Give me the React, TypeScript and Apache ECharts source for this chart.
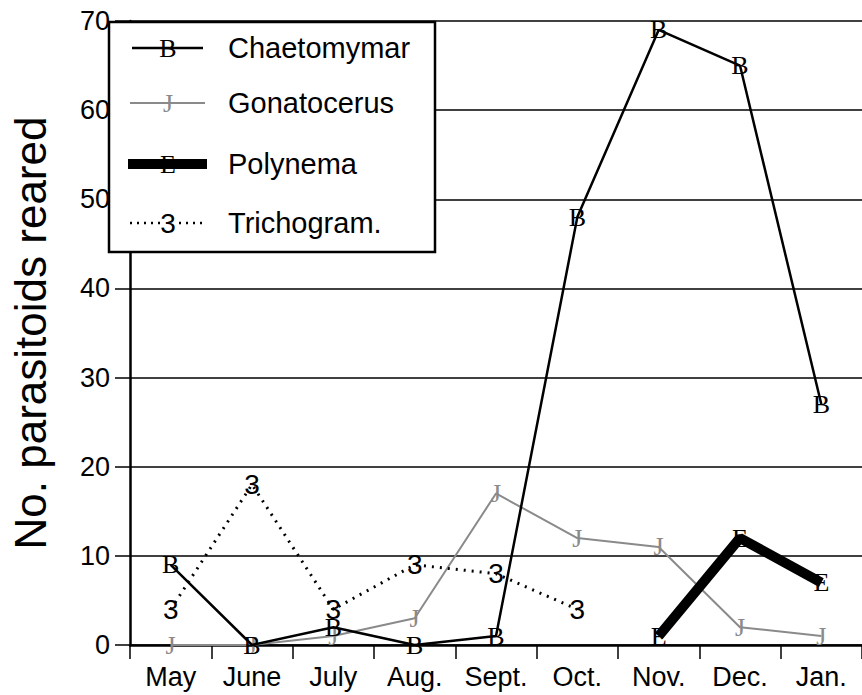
import React, { useEffect, useRef } from "react";
import * as echarts from "echarts";

const months = ["May", "June", "July", "Aug.", "Sept.", "Oct.", "Nov.", "Dec.", "Jan."];
const chaetomymar = [9, 0, 2, 0, 1, 48, 69, 65, 27];
const gonatocerus = [0, 0, 1, 3, 17, 12, 11, 2, 1];
const polynema: (number | null)[] = [null, null, null, null, null, null, 1, 12, 7];
const trichogram: (number | null)[] = [4, 18, 4, 9, 8, 4, null, null, null];
const yTicks = { min: 0, max: 70, interval: 10 };
const seriesNames = ["Chaetomymar", "Gonatocerus", "Polynema", "Trichogram."];
const markers = ["B", "J", "E", "3"];

const SANS = '"Liberation Sans", Arial, Helvetica, sans-serif';
const SERIF = '"Liberation Serif", "Times New Roman", serif';
const GRAY = "#8a8a8a";
const MSIZE = 26;
const NSIZE = 28;

export default function App() {
  const ref = useRef<HTMLDivElement>(null);
  useEffect(() => {
    if (!ref.current) return;
    const chart = echarts.init(ref.current, undefined, { renderer: "svg" });

    const markerLabel = (txt: string, color: string, family: string, size: number) => ({
      show: true,
      position: "inside" as const,
      formatter: txt,
      color,
      fontFamily: family,
      fontSize: size,
    });

    const legendRows = [
      { y: 48, name: seriesNames[0], line: { x1: 132, x2: 203, stroke: "#000", lineWidth: 2.5 }, m: markers[0], mColor: "#000", mFamily: SERIF, mSize: MSIZE },
      { y: 103, name: seriesNames[1], line: { x1: 130, x2: 205, stroke: GRAY, lineWidth: 2 }, m: markers[1], mColor: GRAY, mFamily: SERIF, mSize: MSIZE },
      { y: 164, name: seriesNames[2], line: { x1: 128, x2: 207, stroke: "#000", lineWidth: 10 }, m: markers[2], mColor: "#000", mFamily: SERIF, mSize: MSIZE },
      { y: 223, name: seriesNames[3], line: { x1: 130, x2: 202, stroke: "#000", lineWidth: 2.5, lineDash: [2, 5] }, m: markers[3], mColor: "#000", mFamily: SANS, mSize: NSIZE },
    ];

    const legendGraphics: any[] = [
      {
        type: "rect",
        shape: { x: 109, y: 22, width: 326, height: 230 },
        style: { fill: "#fff", stroke: "#000", lineWidth: 2.5 },
        z: 100,
      },
    ];
    legendRows.forEach((r) => {
      legendGraphics.push({
        type: "line",
        shape: { x1: r.line.x1, y1: r.y, x2: r.line.x2, y2: r.y },
        style: { stroke: r.line.stroke, lineWidth: r.line.lineWidth, lineDash: (r.line as any).lineDash },
        z: 101,
      });
      legendGraphics.push({
        type: "text",
        x: 168,
        y: r.y,
        style: {
          text: r.m,
          fill: r.mColor,
          fontFamily: r.mFamily,
          fontSize: r.mSize,
          align: "center",
          verticalAlign: "middle",
          backgroundColor: r.m === "3" ? "#fff" : undefined,
        },
        z: 102,
      });
      legendGraphics.push({
        type: "text",
        x: 228,
        y: r.y,
        style: {
          text: r.name,
          fill: "#000",
          fontFamily: SANS,
          fontSize: 29,
          align: "left",
          verticalAlign: "middle",
        },
        z: 102,
      });
    });

    chart.setOption({
      animation: false,
      backgroundColor: "#fff",
      grid: { left: 108, right: 0, top: 21, bottom: 50, containLabel: false },
      xAxis: {
        type: "category",
        data: months,
        boundaryGap: true,
        axisLine: { lineStyle: { color: "#000", width: 2.5 } },
        axisTick: { show: true, inside: false, length: 14, lineStyle: { color: "#000", width: 1.5 } },
        axisLabel: { color: "#000", fontFamily: SANS, fontSize: 27, margin: 18, interval: 0 },
        splitLine: { show: false },
      },
      yAxis: {
        type: "value",
        min: yTicks.min,
        max: yTicks.max,
        interval: yTicks.interval,
        name: "No. parasitoids reared",
        nameLocation: "middle",
        nameGap: 78,
        nameRotate: 90,
        nameTextStyle: { color: "#000", fontFamily: SANS, fontSize: 44 },
        axisLine: { show: true, lineStyle: { color: "#000", width: 2.5 } },
        axisTick: { show: true, inside: false, length: 15, lineStyle: { color: "#000", width: 1.5 } },
        axisLabel: { color: "#000", fontFamily: SANS, fontSize: 27, margin: 20 },
        splitLine: { show: true, lineStyle: { color: "#000", width: 1.5 } },
      },
      series: [
        {
          name: seriesNames[1],
          type: "line",
          data: gonatocerus,
          symbol: "circle",
          symbolSize: 1,
          itemStyle: { color: "rgba(0,0,0,0)" },
          lineStyle: { color: GRAY, width: 2 },
          label: markerLabel(markers[1], GRAY, SERIF, MSIZE),
          silent: true,
          z: 2,
        },
        {
          name: seriesNames[3],
          type: "line",
          data: trichogram,
          connectNulls: false,
          symbol: "circle",
          symbolSize: 1,
          itemStyle: { color: "rgba(0,0,0,0)" },
          lineStyle: { color: "#000", width: 3, type: [2, 6] },
          label: markerLabel(markers[3], "#000", SANS, NSIZE),
          silent: true,
          z: 3,
        },
        {
          name: seriesNames[2],
          type: "line",
          data: polynema,
          connectNulls: false,
          symbol: "circle",
          symbolSize: 1,
          itemStyle: { color: "rgba(0,0,0,0)" },
          lineStyle: { color: "#000", width: 10 },
          label: markerLabel(markers[2], "#000", SERIF, MSIZE),
          silent: true,
          z: 4,
        },
        {
          name: seriesNames[0],
          type: "line",
          data: chaetomymar,
          symbol: "circle",
          symbolSize: 1,
          itemStyle: { color: "rgba(0,0,0,0)" },
          lineStyle: { color: "#000", width: 2.5 },
          label: markerLabel(markers[0], "#000", SERIF, MSIZE),
          silent: true,
          z: 5,
        },
      ],
      graphic: legendGraphics,
    });

    return () => chart.dispose();
  }, []);

  return (
    <div
      ref={ref}
      style={{ position: "absolute", left: 0, top: 0, width: 862, height: 695 }}
    />
  );
}
